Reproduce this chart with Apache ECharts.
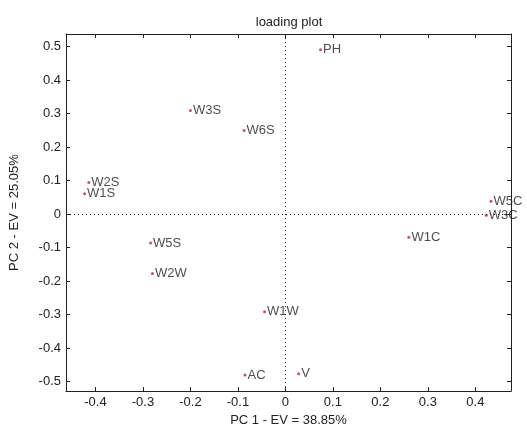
<!DOCTYPE html>
<html>
<head>
<meta charset="utf-8">
<script src="https://cdn.jsdelivr.net/npm/echarts@6/dist/echarts.min.js"></script>
<style>
  html, body { margin: 0; padding: 0; background: #fff; }
  #chart { width: 527px; height: 432px; }
</style>
</head>
<body>
<div id="chart"></div>
<script>
// loadings
var names = ["PH", "W3S", "W6S", "W2S", "W1S", "W5C", "W3C", "W1C", "W5S", "W2W", "W1W", "AC", "V"];
var pc1 = [0.074, -0.200, -0.087, -0.414, -0.423, 0.433, 0.423, 0.260, -0.284, -0.280, -0.044, -0.085, 0.028];
var pc2 = [0.491, 0.310, 0.250, 0.095, 0.061, 0.039, -0.003, -0.069, -0.086, -0.177, -0.291, -0.480, -0.476];
var xTicks = [-0.4, -0.3, -0.2, -0.1, 0, 0.1, 0.2, 0.3, 0.4];
var yTicks = [-0.5, -0.4, -0.3, -0.2, -0.1, 0, 0.1, 0.2, 0.3, 0.4, 0.5];

var font = "Liberation Sans, Arial, sans-serif";
var ink = "#222";

var points = [];
for (var i = 0; i < names.length; i++) {
    points.push([pc1[i], pc2[i], names[i]]);
}

function axis(pos, ticks, min, max, showLabel, name) {
    return {
        type: "value",
        position: pos,
        min: min,
        max: max,
        name: name || "",
        nameLocation: "middle",
        nameGap: pos === "left" ? 45 : 17,
        nameTextStyle: { fontFamily: font, fontSize: 13, color: ink },
        axisLine: { show: true, onZero: false, lineStyle: { color: ink, width: 1 } },
        axisTick: {
            show: true, inside: true, length: 4, customValues: ticks,
            lineStyle: { color: ink, width: 1 }
        },
        axisLabel: {
            show: showLabel, customValues: ticks, margin: pos === "left" ? 5 : 5,
            fontFamily: font, fontSize: 13, color: ink
        },
        splitLine: { show: false }
    };
}

var chart = echarts.init(document.getElementById("chart"));
chart.setOption({
    backgroundColor: "#fff",
    animation: false,
    title: {
        text: "loading plot",
        left: 284,
        textAlign: "center",
        top: 11,
        textStyle: { fontFamily: font, fontSize: 13, fontWeight: "normal", color: ink }
    },
    grid: { left: 59, right: 16, top: 34, bottom: 38 },
    xAxis: [
        axis("bottom", xTicks, -0.462, 0.475, true, "PC 1 - EV = 38.85%"),
        axis("top", xTicks, -0.462, 0.475, false)
    ],
    yAxis: [
        axis("left", yTicks, -0.528, 0.538, true, "PC 2 - EV = 25.05%"),
        axis("right", yTicks, -0.528, 0.538, false)
    ],
    series: [{
        type: "scatter",
        data: points,
        symbolSize: 3,
        itemStyle: { color: "#d02020" },
        label: {
            show: true,
            position: "right",
            distance: 1,
            formatter: function (p) { return p.data[2]; },
            fontFamily: font,
            fontSize: 13,
            color: ink
        },
        markLine: {
            silent: true,
            symbol: "none",
            label: { show: false },
            lineStyle: { color: ink, type: [1, 3], width: 1 },
            data: [{ xAxis: 0 }, { yAxis: 0 }]
        }
    }]
});
</script>
</body>
</html>
